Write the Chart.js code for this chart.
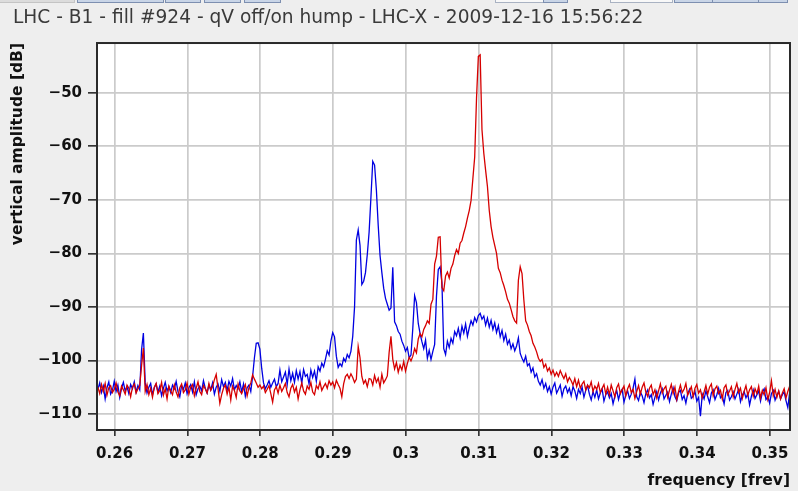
<!DOCTYPE html>
<html><head><meta charset="utf-8">
<script src="https://cdn.jsdelivr.net/npm/chart.js@4.4.1/dist/chart.umd.min.js"></script>
<style>
html,body{margin:0;padding:0;background:#eeeeee;}
#wrap{position:relative;width:798px;height:491px;overflow:hidden;background:#eeeeee;}
#c{position:absolute;left:0;top:0;}
.tb{position:absolute;top:-3px;height:6px;box-sizing:border-box;}
.bl{background:#c9d5e7;border:1px solid #7d8fb0;}
.wh{background:#f8f8f8;border:1px solid #a9b2c2;}
</style></head><body>
<div id="wrap">
<canvas id="c" width="798" height="491"></canvas>
<div class="tb" style="left:-2px;width:77px;background:#dcdcdc;border:1px solid #c4c4c4"></div>
<div class="tb bl" style="left:77px;width:87px"></div>
<div class="tb bl" style="left:165px;width:36px"></div>
<div class="tb bl" style="left:204px;width:37px"></div>
<div class="tb bl" style="left:244px;width:37px"></div>
<div class="tb wh" style="left:495px;width:49px"></div>
<div class="tb bl" style="left:543px;width:25px"></div>
<div class="tb wh" style="left:610px;width:63px"></div>
<div class="tb bl" style="left:674px;width:39px"></div>
<div class="tb bl" style="left:712px;width:47px"></div>
<div class="tb bl" style="left:758px;width:30px"></div>
</div>
<script>
// FFT bins: uniform frequency grid [frev]
const binStart = 0.2577;
const binStep = 0.00025;

// qV off (blue) spectrum, dB
const blueDb = [
-105.4,-104.2,-106.0,-104.8,-107.2,-105.1,-104.0,-106.3,-105.6,-103.9,
-105.8,-104.6,-106.9,-105.2,-104.1,-105.7,-104.9,-106.2,-104.5,-105.3,
-104.0,-105.9,-104.7,-105.5,-98.0,-94.9,-104.2,-106.1,-105.0,-104.3,
-106.4,-105.1,-104.4,-105.9,-104.8,-106.6,-105.2,-104.1,-105.7,-104.9,
-106.0,-104.6,-105.3,-103.9,-105.8,-106.8,-104.7,-105.4,-104.2,-106.2,
-105.1,-104.5,-105.9,-104.0,-106.4,-105.3,-104.8,-105.7,-103.8,-105.2,
-106.1,-104.6,-105.5,-104.2,-106.3,-105.0,-104.4,-105.8,-103.6,-104.9,
-104.1,-105.6,-103.9,-104.8,-103.4,-105.5,-104.7,-105.3,-104.0,-105.9,
-104.4,-106.7,-105.1,-104.6,-105.8,-103.0,-99.5,-96.8,-96.7,-97.9,
-101.5,-104.2,-105.3,-104.6,-103.8,-105.0,-104.2,-103.5,-104.9,-104.3,
-101.8,-104.0,-103.1,-102.2,-104.5,-101.6,-103.8,-102.4,-104.1,-101.9,
-103.5,-102.1,-104.3,-101.7,-103.0,-102.6,-104.4,-101.8,-103.2,-102.0,
-103.9,-101.2,-102.0,-100.5,-101.2,-99.8,-98.2,-99.0,-96.4,-94.8,
-95.6,-99.2,-101.3,-100.6,-101.1,-99.6,-100.2,-98.9,-99.5,-98.3,
-95.5,-90.0,-77.5,-75.6,-78.5,-85.8,-85.2,-83.6,-80.2,-76.0,
-69.5,-62.8,-63.5,-68.2,-74.8,-80.4,-83.6,-86.5,-88.4,-89.5,
-90.6,-90.2,-82.6,-92.8,-93.5,-94.6,-95.1,-96.4,-97.2,-98.3,
-97.6,-99.5,-99.0,-94.0,-87.9,-89.2,-93.1,-95.0,-96.5,-97.8,
-96.2,-99.6,-98.1,-99.8,-98.3,-97.0,-88.0,-83.0,-82.5,-85.5,
-97.8,-98.9,-96.4,-97.6,-95.9,-96.8,-94.6,-95.4,-94.0,-95.8,
-93.6,-94.9,-93.2,-95.5,-93.9,-92.6,-93.4,-92.0,-92.8,-91.6,
-91.2,-92.3,-91.7,-93.4,-92.1,-93.8,-92.5,-94.2,-93.0,-94.8,
-93.5,-95.6,-94.4,-96.3,-95.1,-97.0,-96.2,-97.8,-96.9,-98.2,
-97.3,-95.8,-98.7,-99.6,-100.3,-99.2,-101.0,-100.6,-102.2,-101.4,
-103.1,-102.5,-103.9,-104.6,-103.6,-105.2,-104.3,-105.8,-104.9,-106.3,
-105.0,-104.2,-106.1,-105.4,-104.6,-106.7,-105.3,-104.8,-106.0,-105.2,
-106.6,-104.9,-105.7,-107.1,-105.4,-106.2,-105.0,-106.9,-105.6,-104.7,
-106.3,-107.4,-105.8,-106.9,-105.5,-107.2,-106.1,-105.3,-107.6,-106.4,
-105.9,-107.0,-106.2,-108.1,-106.7,-105.6,-107.3,-106.0,-105.4,-107.8,
-106.5,-105.7,-107.1,-106.3,-105.2,-103.5,-106.8,-107.5,-105.9,-106.6,
-107.9,-106.2,-105.5,-107.0,-106.4,-108.2,-106.9,-105.8,-107.4,-106.1,
-105.3,-107.2,-106.5,-105.9,-107.7,-106.3,-105.1,-106.8,-107.5,-106.0,
-105.6,-107.3,-106.6,-108.0,-106.2,-105.4,-107.1,-106.7,-105.8,-107.6,
-106.9,-110.4,-106.3,-107.2,-105.7,-106.8,-107.9,-106.1,-105.5,-107.3,
-106.4,-105.2,-107.0,-106.6,-108.1,-106.0,-105.6,-107.4,-106.8,-105.9,
-107.2,-106.3,-105.4,-107.7,-106.5,-105.8,-107.0,-106.2,-108.3,-106.7,
-105.5,-107.1,-106.4,-105.7,-107.6,-106.0,-105.3,-107.3,-106.8,-108.0,
-106.2,-105.6,-107.4,-106.5,-105.8,-107.2,-106.4,-105.9,-107.5,-108.8,
-106.0
];

// qV on (red) spectrum, dB
const redDb = [
-105.0,-106.2,-104.5,-105.8,-104.3,-106.5,-105.1,-104.7,-106.0,-105.4,
-104.2,-105.9,-106.6,-104.8,-105.5,-106.3,-104.6,-105.2,-106.8,-105.0,
-104.4,-106.1,-105.3,-104.7,-101.0,-97.7,-105.8,-104.5,-106.4,-105.2,
-106.9,-105.0,-104.3,-106.2,-105.6,-104.1,-106.5,-105.3,-107.2,-104.8,
-105.7,-106.4,-104.6,-105.9,-106.8,-105.1,-104.4,-106.0,-105.5,-104.2,
-106.3,-105.0,-104.5,-106.6,-105.2,-104.0,-105.8,-106.4,-104.7,-105.3,
-106.1,-104.3,-105.6,-104.9,-103.6,-102.6,-105.3,-108.0,-106.4,-105.2,
-104.6,-106.3,-105.0,-107.4,-104.8,-105.6,-106.9,-104.4,-105.7,-106.2,
-105.3,-104.5,-106.6,-105.1,-104.2,-102.7,-103.5,-104.2,-105.0,-104.6,
-105.3,-104.8,-106.0,-105.4,-104.7,-106.2,-107.8,-105.5,-104.9,-106.1,
-104.6,-105.8,-105.1,-104.3,-106.0,-106.8,-105.2,-104.5,-105.9,-105.0,
-107.2,-105.5,-104.2,-105.7,-106.3,-104.8,-105.4,-104.1,-105.9,-106.4,
-104.7,-105.3,-104.0,-105.6,-104.9,-104.3,-105.2,-103.8,-104.6,-104.0,
-105.1,-103.7,-104.5,-105.2,-106.8,-104.4,-103.0,-102.6,-103.4,-102.5,
-103.2,-104.1,-103.5,-97.4,-99.5,-103.0,-104.3,-103.7,-104.9,-103.4,
-103.5,-104.6,-102.8,-104.1,-103.3,-105.0,-102.6,-104.2,-103.6,-102.9,
-98.5,-95.5,-99.8,-101.6,-100.4,-102.2,-100.9,-101.8,-100.2,-102.0,
-100.6,-99.4,-100.1,-99.2,-97.8,-98.6,-96.0,-95.0,-95.6,-94.2,
-93.5,-92.6,-93.1,-89.5,-88.6,-82.0,-80.5,-77.0,-76.9,-86.4,
-87.0,-84.2,-83.5,-84.6,-82.8,-82.0,-80.4,-79.3,-80.0,-78.1,
-77.6,-76.2,-75.0,-73.4,-72.0,-70.1,-66.0,-62.0,-51.0,-43.2,
-42.9,-56.9,-61.3,-64.5,-67.5,-72.0,-75.0,-77.0,-78.5,-80.0,
-82.8,-83.6,-85.0,-86.0,-87.2,-88.6,-89.3,-90.5,-91.8,-92.6,
-93.0,-85.0,-82.5,-83.8,-88.7,-92.6,-93.4,-94.6,-95.4,-96.8,
-97.5,-98.4,-99.6,-100.2,-99.8,-101.3,-100.7,-102.0,-101.4,-102.6,
-101.8,-102.9,-102.2,-103.0,-101.9,-102.7,-103.4,-102.5,-104.0,-103.2,
-103.8,-104.6,-103.4,-104.9,-103.7,-105.2,-104.4,-103.9,-105.5,-104.6,
-105.1,-104.0,-105.8,-104.8,-105.4,-104.3,-106.0,-105.2,-104.5,-106.3,
-105.0,-106.4,-104.6,-105.7,-106.8,-105.1,-104.4,-106.2,-105.5,-104.8,
-106.6,-105.3,-104.5,-106.0,-105.4,-107.1,-105.8,-104.7,-106.3,-105.0,
-104.2,-105.9,-106.7,-105.2,-104.6,-106.4,-105.5,-107.0,-105.7,-104.4,
-106.1,-105.3,-104.8,-106.9,-105.6,-104.5,-106.2,-105.0,-107.3,-105.8,
-104.6,-106.0,-105.4,-104.3,-106.5,-105.7,-104.9,-106.8,-105.2,-104.5,
-106.1,-105.5,-107.0,-105.9,-104.7,-106.3,-105.0,-104.4,-106.6,-105.3,
-104.8,-106.2,-105.6,-107.2,-105.1,-104.6,-106.4,-105.7,-104.9,-106.8,
-105.4,-104.3,-106.0,-105.2,-107.1,-105.8,-104.7,-106.5,-105.5,-104.9,
-106.7,-105.3,-106.2,-104.8,-107.0,-105.6,-106.4,-105.1,-107.3,-106.0,
-103.8,-106.6,-105.4,-106.9,-105.7,-107.2,-106.1,-105.3,-107.0,-105.8,
-104.8
];

// axis tick values
const xTickValues = [0.26,0.27,0.28,0.29,0.30,0.31,0.32,0.33,0.34,0.35];
const yTickValues = [-110,-100,-90,-80,-70,-60,-50];

const chartTitle = 'LHC - B1 - fill #924 - qV off/on hump - LHC-X - 2009-12-16 15:56:22';
const xTitle = 'frequency [frev]';
const yTitle = 'vertical amplitude [dB]';

const toPoints = arr => arr.map((v, i) => ({x: binStart + i * binStep, y: v}));

const FONT = 'DejaVu Sans';

const plotFrame = {
  id: 'plotFrame',
  beforeDraw(chart) {
    const {ctx, chartArea: a} = chart;
    ctx.save();
    ctx.fillStyle = '#ffffff';
    ctx.fillRect(a.left, a.top, a.right - a.left, a.bottom - a.top);
    ctx.restore();
  },
  afterDatasetsDraw(chart) {
    const {ctx, chartArea: a} = chart;
    ctx.save();
    ctx.strokeStyle = '#2a2a2a';
    ctx.lineWidth = 2;
    ctx.strokeRect(a.left, a.top, a.right - a.left, a.bottom - a.top);
    ctx.restore();
  }
};

new Chart(document.getElementById('c'), {
  type: 'line',
  data: {
    datasets: [
      {label: 'qV on', data: toPoints(redDb), borderColor: 'rgb(214,0,0)', borderWidth: 1.3, pointRadius: 0, tension: 0, order: 1},
      {label: 'qV off', data: toPoints(blueDb), borderColor: 'rgb(0,0,225)', borderWidth: 1.3, pointRadius: 0, tension: 0, order: 2}
    ]
  },
  options: {
    responsive: false,
    animation: false,
    events: [],
    layout: {padding: {left: 13, right: 8, top: 0, bottom: 0}},
    plugins: {
      legend: {display: false},
      tooltip: {enabled: false},
      title: {
        display: true, text: chartTitle, align: 'start', color: '#3a3a3a',
        font: {family: FONT, size: 18.6, weight: 'normal', lineHeight: 1.2},
        padding: {top: 7.5, bottom: 13.2}
      }
    },
    scales: {
      x: {
        type: 'linear', min: 0.25758, max: 0.35275,
        afterBuildTicks: s => { s.ticks = xTickValues.map(v => ({value: v})); },
        afterFit: s => { s.height = 61; s.paddingLeft = 0; s.paddingRight = 0; },
        grid: {color: '#cbcbcb', lineWidth: 1.7, tickLength: 6, tickColor: '#2a2a2a', tickWidth: 1.6, drawTicks: true},
        border: {display: false},
        ticks: {
          font: {family: FONT, size: 15, weight: 'bold'}, color: '#111111', padding: 9,
          maxRotation: 0, autoSkip: false,
          callback: v => String(Math.round(v * 100) / 100)
        },
        title: {
          display: true, text: xTitle, align: 'end', color: '#111111',
          font: {family: FONT, size: 15.5, weight: 'bold', lineHeight: 1.2},
          padding: {top: 0, bottom: 1}
        }
      },
      y: {
        type: 'linear', min: -113, max: -40.7,
        afterBuildTicks: s => { s.ticks = yTickValues.map(v => ({value: v})); },
        afterFit: s => { s.width = 84; s.paddingTop = 0; s.paddingBottom = 0; },
        grid: {color: '#cbcbcb', lineWidth: 1.7, tickLength: 9, tickColor: '#2a2a2a', tickWidth: 1.6, drawTicks: true},
        border: {display: false},
        ticks: {
          font: {family: FONT, size: 15, weight: 'bold'}, color: '#111111', padding: 6,
          autoSkip: false,
          callback: v => (v < 0 ? '\u2212' + Math.abs(v) : String(v))
        },
        title: {
          display: true, text: yTitle, align: 'end', color: '#111111',
          font: {family: FONT, size: 15.5, weight: 'bold', lineHeight: 1},
          padding: {top: -3, bottom: 0}
        }
      }
    }
  },
  plugins: [plotFrame]
});
</script>
</body></html>
